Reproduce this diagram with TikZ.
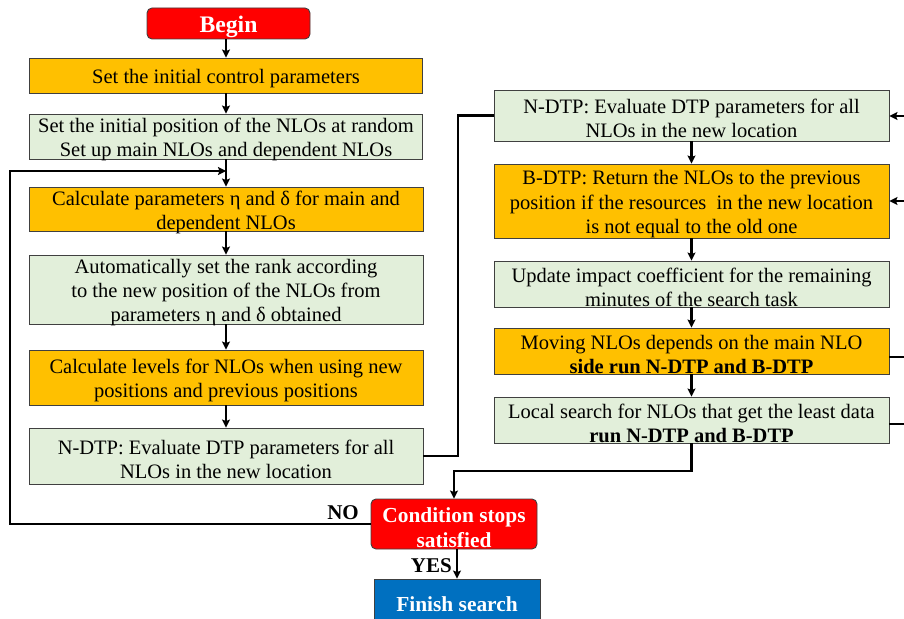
\documentclass[tikz,border=0pt]{standalone}
\usepackage{fontspec}
\setmainfont{Liberation Serif}
\usetikzlibrary{arrows.meta}
\definecolor{boxorange}{HTML}{FFC000}
\definecolor{boxgreen}{HTML}{E2EFDA}
\definecolor{boxred}{HTML}{FF0000}
\definecolor{boxblue}{HTML}{0070C0}
\definecolor{edgegray}{HTML}{404040}
\tikzset{
  base/.style={draw=edgegray, line width=0.9pt, inner sep=0pt},
  obox/.style={base, fill=boxorange},
  gbox/.style={base, fill=boxgreen},
  redterm/.style={base, fill=boxred, rounded corners=5pt},
  blueterm/.style={base, fill=boxblue},
  normtext/.style={align=center, inner sep=0pt, font=\fontsize{20.5}{24.2}\selectfont},
  termtext/.style={align=center, inner sep=0pt, text=white, font=\fontsize{21.4}{25}\selectfont\bfseries},
  bigtext/.style={align=center, inner sep=0pt, text=white, font=\fontsize{23.7}{26}\selectfont\bfseries},
  conn/.style={line width=2.3pt, draw=black},
  arr/.style={conn, -{Stealth[length=8pt,width=8pt,inset=1.5pt]}},
  lbl/.style={font=\fontsize{21}{24}\selectfont\bfseries, inner sep=0pt}
}
% #1 box style, #2 text style, #3 name, #4 centre, #5 width, #6 height, #7 text
\newcommand\flowbox[7]{%
  \node[#1, minimum width=#5, minimum height=#6] (#3) at (#4) {};
  \node[#2] (#3-t) at ([yshift=-3.2pt]#3.center) {#7};}
\begin{document}
\begin{tikzpicture}[x=1pt,y=-1pt]
\useasboundingbox (0,0) rectangle (904,618);
% left column
\flowbox{redterm}{bigtext}{begin}{228.5,23.5}{163pt}{31pt}{Begin}
\flowbox{obox}{normtext}{b1}{226,75.5}{393pt}{35pt}{Set the initial control parameters}
\flowbox{gbox}{normtext}{b2}{226,136.5}{393pt}{45pt}{Set the initial position of the NLOs at random\\Set up main NLOs and dependent NLOs}
\flowbox{obox}{normtext}{b3}{226,209}{394pt}{44pt}{Calculate parameters η and δ for main and\\dependent NLOs}
\flowbox{gbox}{normtext}{b4}{226,289.5}{394pt}{69pt}{Automatically set the rank according\\to the new position of the NLOs from\\parameters η and δ obtained}
\flowbox{obox}{normtext}{b5}{226,377.5}{394pt}{55pt}{Calculate levels for NLOs when using new\\positions and previous positions}
\flowbox{gbox}{normtext}{b6}{226,456}{394pt}{56pt}{N-DTP: Evaluate DTP parameters for all\\NLOs in the new location}
% right column
\flowbox{gbox}{normtext}{r1}{691.5,115.5}{395pt}{51pt}{N-DTP: Evaluate DTP parameters for all\\NLOs in the new location}
\flowbox{obox}{normtext}{r2}{691.5,201}{395pt}{74pt}{B-DTP: Return the NLOs to the previous\\position if the resources \ in the new location\\is not equal to the old one}
\flowbox{gbox}{normtext}{r3}{691.5,284}{395pt}{46pt}{Update impact coefficient for the remaining\\minutes of the search task}
\flowbox{obox}{normtext}{r4}{691.5,351}{395pt}{46pt}{Moving NLOs depends on the main NLO\\\textbf{side run N-DTP and B-DTP}}
\flowbox{gbox}{normtext}{r5}{691.5,420}{395pt}{46pt}{Local search for NLOs that get the least data\\\textbf{run N-DTP and B-DTP}}
% terminals
\flowbox{redterm}{termtext}{cond}{454,524}{166pt}{50pt}{Condition stops\\satisfied}
\flowbox{blueterm}{termtext}{fin}{457,601}{166pt}{44pt}{Finish search}
\node[lbl, anchor=east] (no) at (359,513) {NO};
\node[lbl, anchor=east] (yes) at (452,566) {YES};
% coordinates
\coordinate (lp) at (226,171);
\coordinate (nl) at (10,524);
\coordinate (j1) at (458,456);
\coordinate (j2) at (454,471);
\coordinate (e1) at (906,116);
\coordinate (e2) at (906,201);
\coordinate (e3) at (906,357);
\coordinate (e4) at (906,424);
% connectors left
\draw[arr] (begin.south -| b1.north) -- (b1.north);
\draw[arr] (b1) -- (b2);
\draw[arr] (b2) -- (b3);
\draw[arr] (b3) -- (b4);
\draw[arr] (b4) -- (b5);
\draw[arr] (b5) -- (b6);
\draw[arr] (cond.west) -- (nl) |- (lp);
\draw[conn] (b6.east) -- (j1) |- (r1.west);
% right
\draw[arr] (r1) -- (r2);
\draw[arr] (r2) -- (r3);
\draw[arr] (r3) -- (r4);
\draw[arr] (r4) -- (r5);
\draw[arr] (r5.south) |- (j2) -- (cond.north);
\draw[arr] (cond.south -| fin.north) -- (fin.north);
\draw[arr] (e1) -- (e1 -| r1.east);
\draw[arr] (e2) -- (e2 -| r2.east);
\draw[conn] (e3 -| r4.east) -- (e3);
\draw[conn] (e4 -| r5.east) -- (e4);
\end{tikzpicture}
\end{document}
